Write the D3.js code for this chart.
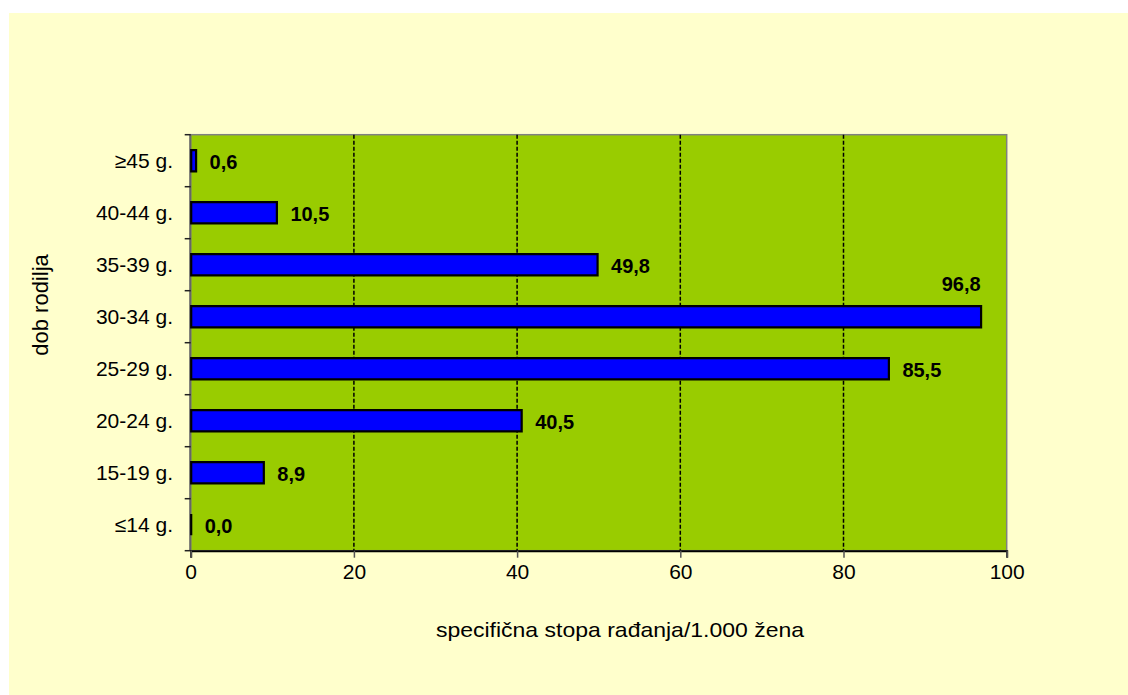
<!DOCTYPE html>
<html>
<head>
<meta charset="utf-8">
<script src="https://cdn.jsdelivr.net/npm/d3@7"></script>
<style>
  html, body { margin: 0; padding: 0; background: #ffffff; }
  svg { display: block; }
  text { font-family: Arial, "Liberation Sans", sans-serif; }
</style>
</head>
<body>
<svg id="chart" width="1128" height="695"></svg>
<script>
// Age groups of mothers (top to bottom) and age-specific fertility rates per 1,000 women
const ageGroups = ["≥45 g.", "40-44 g.", "35-39 g.", "30-34 g.", "25-29 g.", "20-24 g.", "15-19 g.", "≤14 g."];
const rates = [0.6, 10.5, 49.8, 96.8, 85.5, 40.5, 8.9, 0.0];
const rateLabels = ["0,6", "10,5", "49,8", "96,8", "85,5", "40,5", "8,9", "0,0"];
const xTicks = [0, 20, 40, 60, 80, 100];
const xTitle = "specifična stopa rađanja/1.000 žena";
const yTitle = "dob rodilja";

const data = ageGroups.map((g, i) => ({ group: g, value: rates[i], label: rateLabels[i] }));

const svg = d3.select("#chart");

// chart background
svg.append("rect")
  .attr("x", 9).attr("y", 13)
  .attr("width", 1128 - 9).attr("height", 695 - 13)
  .attr("fill", "#FFFFCC");

const plot = { left: 190.7, right: 1006.7, top: 134.7, bottom: 550.7 };

const x = d3.scaleLinear().domain([0, 100]).range([plot.left, plot.right]);
const y = d3.scaleBand().domain(ageGroups).range([plot.top, plot.bottom]).paddingInner(0.59).paddingOuter(0.295);
const yb = d3.scaleBand().domain(ageGroups).range([plot.top, plot.bottom]);

// plot area
svg.append("rect")
  .attr("x", plot.left).attr("y", plot.top)
  .attr("width", plot.right - plot.left).attr("height", plot.bottom - plot.top)
  .attr("fill", "#99CC00")
  .attr("stroke", "#808080").attr("stroke-width", 1.5);

// dashed vertical gridlines
svg.append("g").selectAll("line")
  .data(xTicks.filter(t => t > 0 && t < 100))
  .join("line")
  .attr("x1", d => x(d)).attr("x2", d => x(d))
  .attr("y1", plot.top).attr("y2", plot.bottom)
  .attr("stroke", "#000").attr("stroke-width", 1.5)
  .attr("stroke-dasharray", "4,2");

// y axis: line, ticks at category boundaries, labels
const yAxisG = svg.append("g");
yAxisG.append("line")
  .attr("x1", plot.left - 0.5).attr("x2", plot.left - 0.5)
  .attr("y1", plot.top).attr("y2", plot.bottom)
  .attr("stroke", "#666").attr("stroke-width", 2);
yAxisG.selectAll("line.tick")
  .data(d3.range(ageGroups.length + 1))
  .join("line")
  .attr("class", "tick")
  .attr("x1", plot.left - 6).attr("x2", plot.left)
  .attr("y1", i => plot.top + i * yb.step()).attr("y2", i => plot.top + i * yb.step())
  .attr("stroke", "#222").attr("stroke-width", 1.5);
yAxisG.selectAll("text")
  .data(ageGroups)
  .join("text")
  .attr("x", 173)
  .attr("y", d => yb(d) + yb.bandwidth() / 2 + 7)
  .attr("text-anchor", "end")
  .attr("font-size", 21).attr("fill", "#000")
  .text(d => d);

// bars drawn as closed paths so a zero value still shows its outline
const barPath = d => {
  const p = d3.path();
  const x0 = x(0) + 0.5, w = x(d.value) - x(0), y0 = y(d.group), h = y.bandwidth();
  p.moveTo(x0, y0);
  p.lineTo(x0 + w, y0);
  p.lineTo(x0 + w, y0 + h);
  p.lineTo(x0, y0 + h);
  p.closePath();
  return p.toString();
};
svg.append("g").selectAll("path")
  .data(data)
  .join("path")
  .attr("d", barPath)
  .attr("fill", "#0000FF")
  .attr("stroke", "#000").attr("stroke-width", 2.2)
  .attr("stroke-linecap", "square");

// value labels
svg.append("g").selectAll("text")
  .data(data)
  .join("text")
  .attr("x", d => d.value > 90 ? x(d.value) : x(d.value) + 14)
  .attr("y", d => d.value > 90 ? yb(d.group) + yb.bandwidth() / 2 - 26 : yb(d.group) + yb.bandwidth() / 2 + 8)
  .attr("text-anchor", d => d.value > 90 ? "end" : "start")
  .attr("font-size", 20).attr("font-weight", "bold")
  .attr("fill", "#000")
  .text(d => d.label);

// x axis
const xAxis = svg.append("g")
  .attr("transform", `translate(0,${plot.bottom})`)
  .call(d3.axisBottom(x).tickValues(xTicks).tickSize(7).tickPadding(6).tickFormat(d3.format("d")));
xAxis.select(".domain").attr("stroke", "#000").attr("stroke-width", 2);
xAxis.selectAll(".tick line").attr("stroke", "#555").attr("stroke-width", 1.5);
xAxis.selectAll(".tick text").attr("font-size", 21).attr("fill", "#000")
  .attr("font-family", "Arial, 'Liberation Sans', sans-serif");

// axis titles
svg.append("text")
  .attr("transform", "translate(620,637) scale(1.15,1)")
  .attr("text-anchor", "middle")
  .attr("font-size", 20).attr("fill", "#000")
  .text(xTitle);

svg.append("text")
  .attr("transform", "translate(48,305) rotate(-90)")
  .attr("text-anchor", "middle")
  .attr("font-size", 22).attr("fill", "#000")
  .text(yTitle);
</script>
</body>
</html>
